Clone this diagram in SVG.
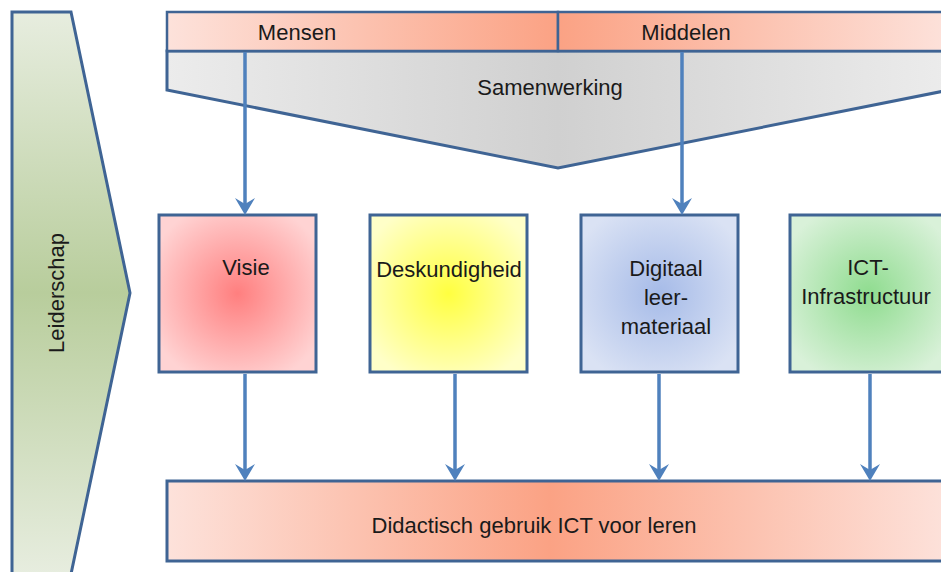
<svg xmlns="http://www.w3.org/2000/svg" width="941" height="572" viewBox="0 0 941 572">
<defs>
<style>
.lbl{font-family:"Liberation Sans",Arial,sans-serif;font-size:22px;fill:#1a1a1a;text-anchor:middle}
.box{stroke:#3f6494;stroke-width:3}
.conn{stroke:#4f81bd;stroke-width:3.5;fill:none}
</style>
<linearGradient id="gSalmon" x1="167" y1="0" x2="949" y2="0" gradientUnits="userSpaceOnUse">
<stop offset="0" stop-color="#fde2db"/>
<stop offset="0.5" stop-color="#fba284"/>
<stop offset="1" stop-color="#fde2db"/>
</linearGradient>
<linearGradient id="gSalmonB" x1="167" y1="0" x2="949" y2="0" gradientUnits="userSpaceOnUse">
<stop offset="0" stop-color="#fde2db"/>
<stop offset="0.49" stop-color="#fba284"/>
<stop offset="1" stop-color="#fde2db"/>
</linearGradient>
<linearGradient id="gGray" x1="167" y1="0" x2="949" y2="0" gradientUnits="userSpaceOnUse">
<stop offset="0" stop-color="#ececec"/>
<stop offset="0.5" stop-color="#d0d0d0"/>
<stop offset="1" stop-color="#ececec"/>
</linearGradient>
<linearGradient id="gGreen" x1="0" y1="12" x2="0" y2="574" gradientUnits="userSpaceOnUse">
<stop offset="0" stop-color="#e7eddf"/>
<stop offset="0.5" stop-color="#b8cd9c"/>
<stop offset="1" stop-color="#e7eddf"/>
</linearGradient>
<radialGradient id="gRed" cx="0.5" cy="0.5" r="0.6">
<stop offset="0" stop-color="#ff7f7f"/>
<stop offset="1" stop-color="#ffd3d3"/>
</radialGradient>
<radialGradient id="gYellow" cx="0.5" cy="0.5" r="0.6">
<stop offset="0" stop-color="#ffff40"/>
<stop offset="1" stop-color="#ffffc8"/>
</radialGradient>
<radialGradient id="gBlue" cx="0.5" cy="0.5" r="0.6">
<stop offset="0" stop-color="#a6bbe8"/>
<stop offset="1" stop-color="#dae2f4"/>
</radialGradient>
<radialGradient id="gGreenBox" cx="0.5" cy="0.5" r="0.6">
<stop offset="0" stop-color="#8fdc8f"/>
<stop offset="1" stop-color="#d9f1d9"/>
</radialGradient>
<marker id="arr" markerUnits="userSpaceOnUse" markerWidth="22" markerHeight="22" viewBox="0 0 22 22" refX="12" refY="11" orient="auto">
<path d="M0,1 L17,11 L0,21 L6,11 Z" fill="#4f81bd"/>
</marker>
</defs>

<g id="leiderschap">
<path d="M12,12 L71,12 L130,293 L71,574 L12,574 Z" fill="url(#gGreen)" class="box"/>
<text class="lbl" transform="translate(64,293) rotate(-90)">Leiderschap</text>
</g>

<g id="samenwerking">
<path d="M167,51 L167,90 L558,168 L949,90 L949,51 Z" fill="url(#gGray)" class="box"/>
<text class="lbl" x="550" y="95">Samenwerking</text>
</g>

<g id="mensen">
<rect x="167" y="12" width="391" height="39" fill="url(#gSalmon)" stroke="#3f6494" stroke-width="2.5"/>
<text class="lbl" x="297" y="40">Mensen</text>
</g>

<g id="middelen">
<rect x="558" y="12" width="391" height="39" fill="url(#gSalmon)" stroke="#3f6494" stroke-width="2.5"/>
<text class="lbl" x="686" y="40">Middelen</text>
</g>

<g id="visie">
<rect x="159" y="215" width="157" height="157" fill="url(#gRed)" class="box"/>
<text class="lbl" x="246" y="275">Visie</text>
</g>

<g id="deskundigheid">
<rect x="370" y="215" width="157" height="157" fill="url(#gYellow)" class="box"/>
<text class="lbl" x="449" y="277">Deskundigheid</text>
</g>

<g id="digitaal">
<rect x="581" y="215" width="157" height="157" fill="url(#gBlue)" class="box"/>
<text class="lbl" x="666" y="276">Digitaal</text>
<text class="lbl" x="666" y="305">leer-</text>
<text class="lbl" x="666" y="334">materiaal</text>
</g>

<g id="ict">
<rect x="790" y="215" width="157" height="157" fill="url(#gGreenBox)" class="box"/>
<text class="lbl" x="868" y="275">ICT-</text>
<text class="lbl" x="866" y="304">Infrastructuur</text>
</g>

<g id="didactisch">
<rect x="167" y="481" width="782" height="80" fill="url(#gSalmonB)" class="box"/>
<text class="lbl" x="534" y="533">Didactisch gebruik ICT voor leren</text>
</g>

<g id="connectors">
<line class="conn" x1="245" y1="52" x2="245" y2="210" marker-end="url(#arr)"/>
<line class="conn" x1="682" y1="52" x2="682" y2="210" marker-end="url(#arr)"/>
<line class="conn" x1="245" y1="374" x2="245" y2="476" marker-end="url(#arr)"/>
<line class="conn" x1="455" y1="374" x2="455" y2="476" marker-end="url(#arr)"/>
<line class="conn" x1="659" y1="374" x2="659" y2="476" marker-end="url(#arr)"/>
<line class="conn" x1="870" y1="374" x2="870" y2="476" marker-end="url(#arr)"/>
</g>
</svg>
